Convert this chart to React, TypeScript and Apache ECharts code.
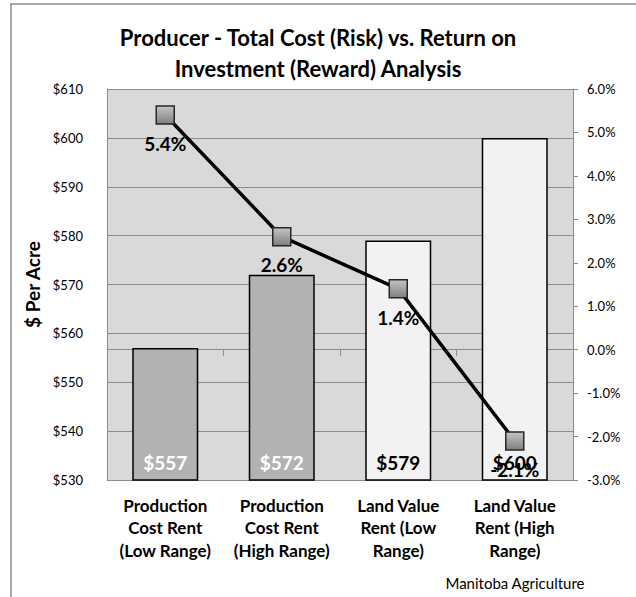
import React, { useEffect, useRef } from "react";
import * as echarts from "echarts";

const categories = [
  "Production\nCost Rent\n(Low Range)",
  "Production\nCost Rent\n(High Range)",
  "Land Value\nRent (Low\nRange)",
  "Land Value\nRent (High\nRange)",
];
const costPerAcre = [557, 572, 579, 600];
const returnPct = [5.4, 2.6, 1.4, -2.1];
const barFills = ["#b2b2b2", "#b2b2b2", "#f2f2f2", "#f2f2f2"];
const barLabelColors = ["#ffffff", "#ffffff", "#000000", "#000000"];

const FONT = "Lato, 'Open Sans', sans-serif";

export default function App() {
  const ref = useRef<HTMLDivElement>(null);
  useEffect(() => {
    if (!ref.current) return;
    const chart = echarts.init(ref.current, null, { renderer: "svg" });
    chart.setOption({
      animation: false,
      backgroundColor: "#ffffff",
      textStyle: { fontFamily: FONT },
      title: {
        text: "Producer - Total Cost (Risk) vs. Return on\nInvestment (Reward) Analysis",
        left: "center",
        top: 17,
        textStyle: {
          fontFamily: FONT,
          fontSize: 22,
          fontWeight: "bold",
          color: "#000",
          lineHeight: 31,
        },
      },
      graphic: [
        {
          type: "rect",
          shape: { x: 11, y: 4, width: 800, height: 800 },
          style: { fill: "none", stroke: "#8c8c8c", lineWidth: 1.5 },
          silent: true,
          z: -1,
        },
        {
          type: "text",
          right: 51,
          top: 575,
          style: {
            text: "Manitoba Agriculture",
            fontFamily: FONT,
            fontSize: 15,
            fill: "#000",
          },
        },
      ],
      grid: {
        left: 107,
        right: 63,
        top: 89,
        bottom: 117,
        show: true,
        backgroundColor: "#d9d9d9",
        borderWidth: 0,
      },
      xAxis: {
        type: "category",
        data: categories,
        axisLine: { show: true, lineStyle: { color: "#8c8c8c", width: 1 } },
        axisTick: { show: true, length: 6, lineStyle: { color: "#8c8c8c" } },
        axisLabel: {
          fontFamily: FONT,
          fontSize: 17,
          fontWeight: "bold",
          color: "#000",
          lineHeight: 22.5,
          margin: 14,
          interval: 0,
        },
      },
      yAxis: [
        {
          type: "value",
          min: 530,
          max: 610,
          interval: 10,
          name: "$ Per Acre",
          nameLocation: "middle",
          nameGap: 62,
          nameRotate: 90,
          nameTextStyle: {
            fontFamily: FONT,
            fontSize: 19,
            fontWeight: "bold",
            color: "#000",
          },
          axisLine: { show: true, lineStyle: { color: "#8c8c8c" } },
          axisTick: { show: false },
          axisLabel: {
            formatter: (v: number) => "$" + v,
            fontFamily: FONT,
            fontSize: 13,
            color: "#000",
            margin: 24,
          },
          splitLine: { show: true, lineStyle: { color: "#8c8c8c", width: 1 } },
        },
        {
          type: "value",
          min: -3,
          max: 6,
          interval: 1,
          position: "right",
          axisLine: { show: true, lineStyle: { color: "#8c8c8c" } },
          axisTick: { show: true, length: 5, lineStyle: { color: "#8c8c8c" } },
          axisLabel: {
            formatter: (v: number) => v.toFixed(1) + "%",
            fontFamily: FONT,
            fontSize: 13,
            color: "#000",
            margin: 14,
          },
          splitLine: { show: false },
        },
      ],
      series: [
        {
          type: "bar",
          yAxisIndex: 0,
          barWidth: 66,
          data: costPerAcre.map((v, i) => ({
            value: v,
            itemStyle: { color: barFills[i], borderColor: "#000", borderWidth: 1.5 },
            label: { color: barLabelColors[i] },
          })),
          label: {
            show: true,
            position: "insideBottom",
            distance: 9,
            formatter: (p: any) => "$" + p.value,
            fontFamily: FONT,
            fontSize: 19,
            fontWeight: "bold",
          },
          z: 2,
        },
        {
          type: "line",
          yAxisIndex: 1,
          data: returnPct,
          symbol: "rect",
          symbolSize: 18,
          lineStyle: { color: "#000", width: 3.5 },
          itemStyle: {
            color: new echarts.graphic.LinearGradient(0, 0, 0, 1, [
              { offset: 0, color: "#c4c4c4" },
              { offset: 1, color: "#7f7f7f" },
            ]),
            borderColor: "#262626",
            borderWidth: 1.5,
          },
          label: {
            show: true,
            position: "bottom",
            distance: 9,
            formatter: (p: any) => p.value.toFixed(1) + "%",
            fontFamily: FONT,
            fontSize: 19,
            fontWeight: "bold",
            color: "#000",
          },
          z: 5,
        },
      ],
    });
    return () => chart.dispose();
  }, []);
  return (
    <div
      ref={ref}
      style={{ position: "fixed", left: 0, top: 0, width: 636, height: 597 }}
    />
  );
}
